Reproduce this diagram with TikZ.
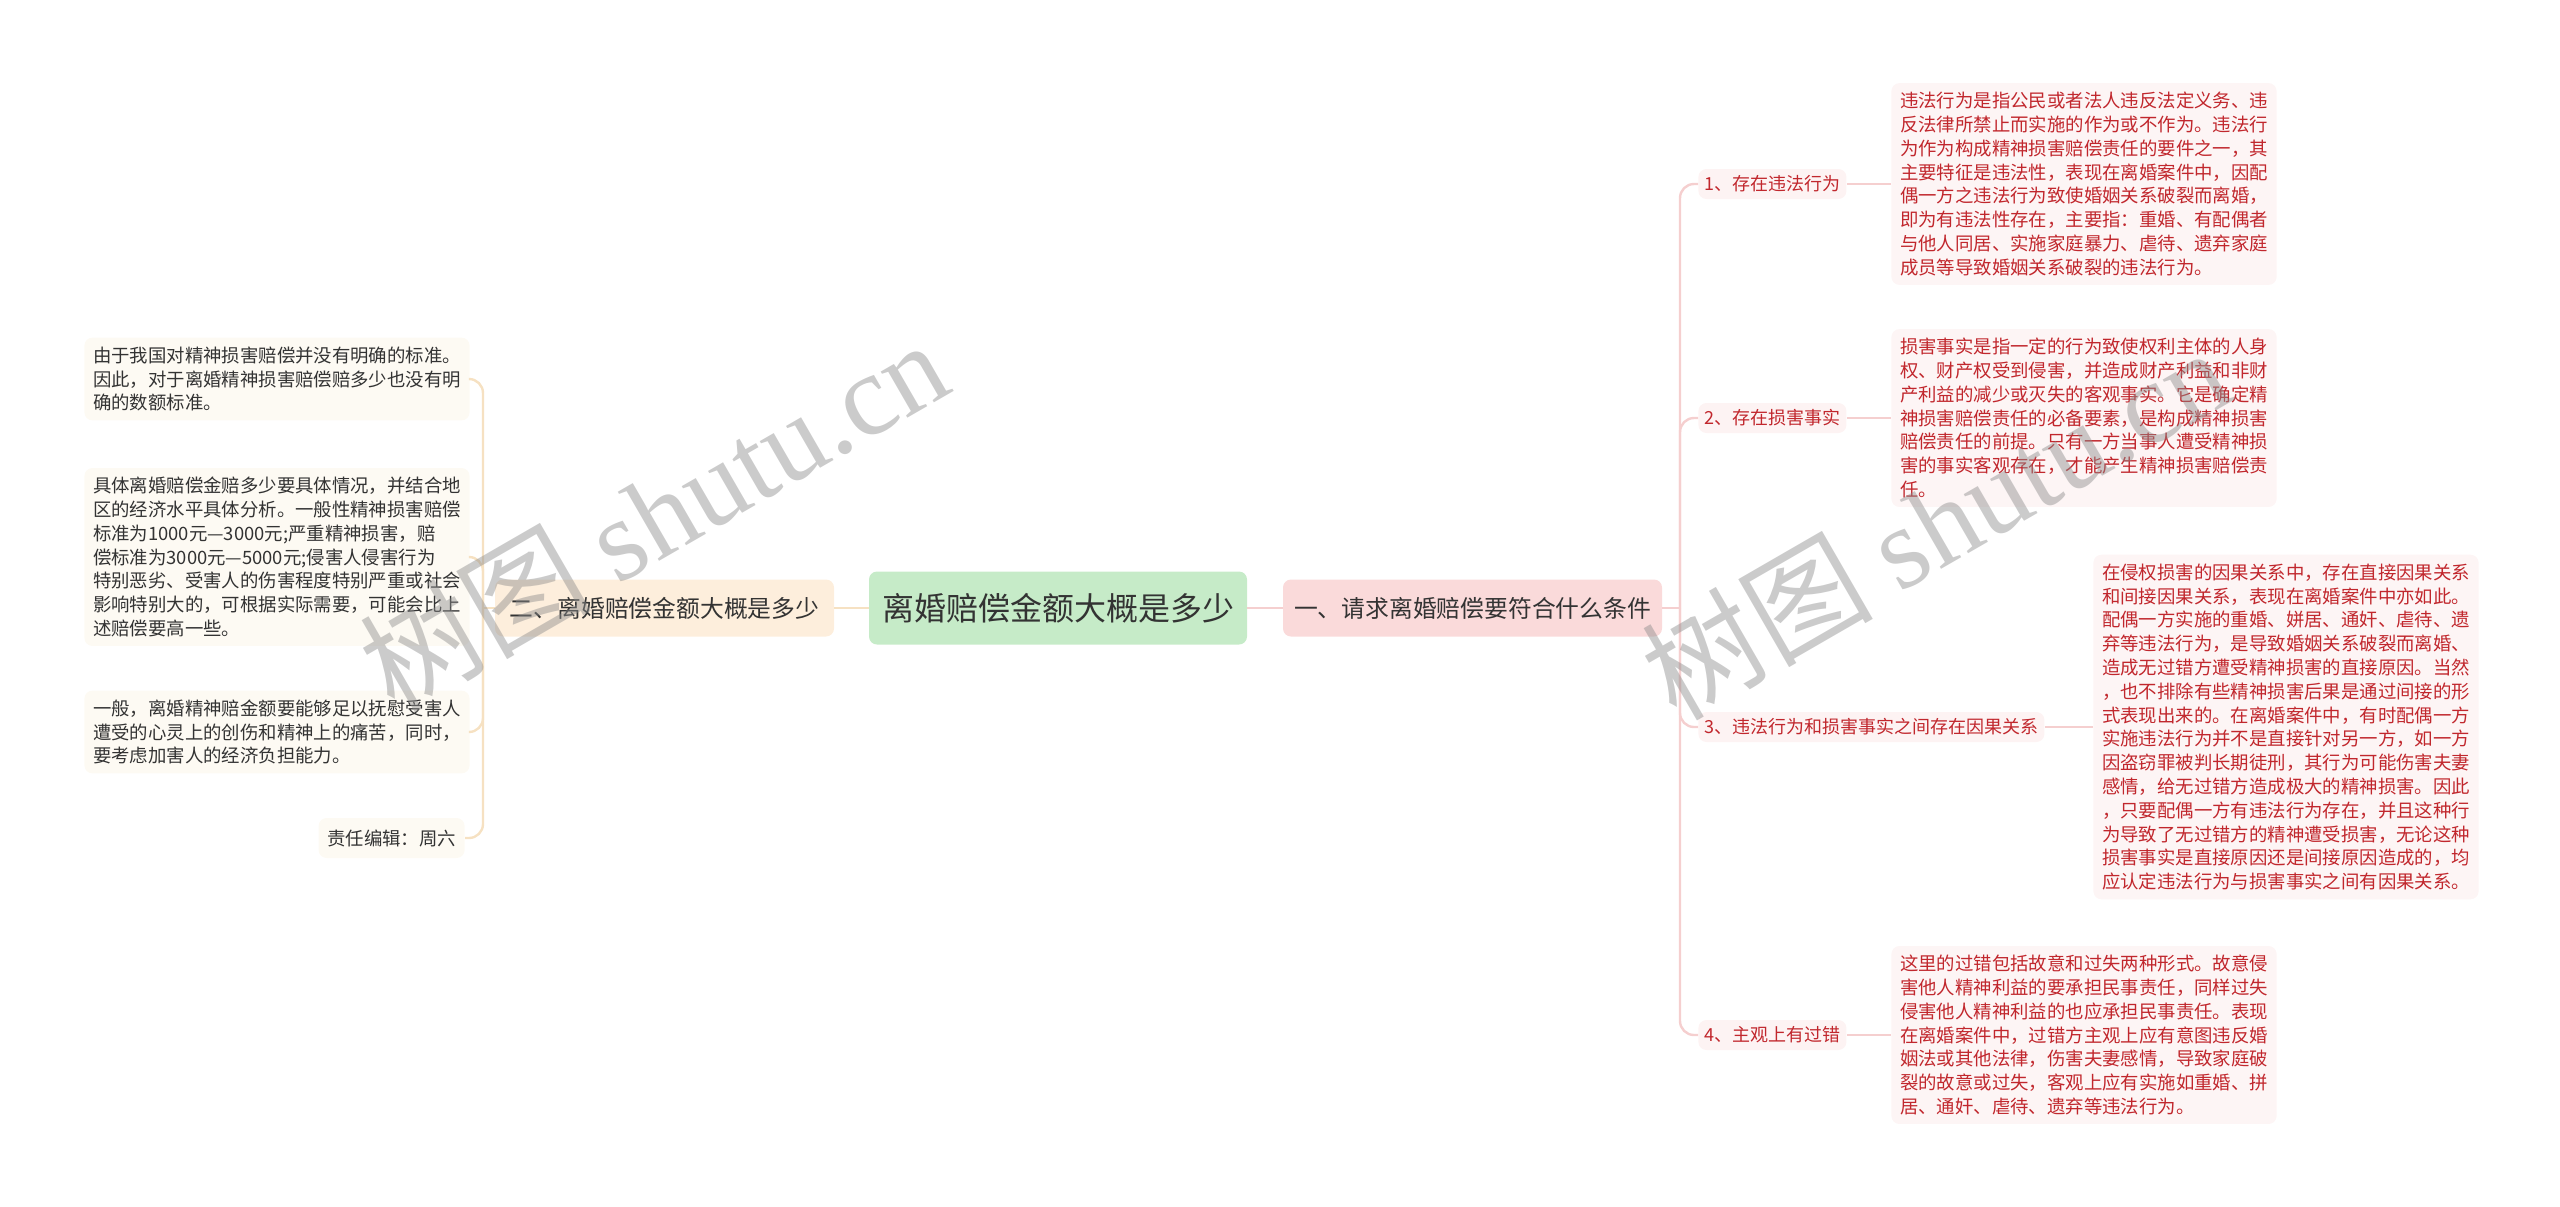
\documentclass[tikz,border=0pt]{standalone}
\usepackage{fontspec}
\setmainfont{Noto Sans CJK SC}
\newfontfamily\wmfont{Liberation Serif}
\usetikzlibrary{positioning}

\definecolor{rootbg}{HTML}{C6EBC8}
\definecolor{rmainbg}{HTML}{FADADA}
\definecolor{lmainbg}{HTML}{FDEEDC}
\definecolor{rlabbg}{HTML}{FDF3F3}
\definecolor{rboxbg}{HTML}{FDF5F5}
\definecolor{lboxbg}{HTML}{FDFAF3}
\definecolor{redtxt}{HTML}{C1272D}
\definecolor{darktxt}{HTML}{333333}
\definecolor{rlinec}{HTML}{F5CFCF}
\definecolor{llinec}{HTML}{F6E1C2}

\begin{document}
\begin{tikzpicture}[x=0.5pt, y=-0.5pt,
  box/.style={rounded corners=4pt, align=center, inner sep=3pt, text=darktxt},
  root/.style={box, fill=rootbg, minimum width=189pt, minimum height=36.5pt,
               font=\fontsize{16}{19}\selectfont},
  rmain/.style={box, fill=rmainbg, minimum width=189.5pt, minimum height=28.5pt,
                font=\fontsize{11.9}{14}\selectfont},
  lmain/.style={box, fill=lmainbg, minimum width=169.5pt, minimum height=28.5pt,
                font=\fontsize{11.9}{14}\selectfont},
  rlab/.style={box, fill=rlabbg, text=redtxt, anchor=west, minimum height=15pt,
               font=\fontsize{9}{11}\selectfont},
  para/.style={box, align=left, text width=184pt, inner xsep=4.3pt, inner ysep=4.5pt,
               font=\fontsize{9.2}{11.9}\selectfont},
  rpara/.style={para, fill=rboxbg, text=redtxt, anchor=west},
  lpara/.style={para, fill=lboxbg, anchor=east},
  rl/.style={draw=rlinec, line width=1.2pt, rounded corners=7pt},
  ll/.style={draw=llinec, line width=1.2pt, rounded corners=7pt},
  wmark/.style={rotate=30, text=black!45, opacity=0.45, font=\fontsize{58}{60}\selectfont}
]
\useasboundingbox (0,0) rectangle (2560,1206);

\node[root] (root) at (1058,608) {离婚赔偿金额大概是多少};
\node[rmain] (rmain) at (1472.5,608) {一、请求离婚赔偿要符合什么条件};
\node[lmain] (lmain) at (664.5,608) {二、离婚赔偿金额大概是多少};

\node[rlab] (lab1) at (1698,184) {1、存在违法行为};
\node[rlab] (lab2) at (1698,418) {2、存在损害事实};
\node[rlab] (lab3) at (1698,727) {3、违法行为和损害事实之间存在因果关系};
\node[rlab] (lab4) at (1698,1035) {4、主观上有过错};

\node[rpara] (txt1) at (1891,184) {违法行为是指公民或者法人违反法定义务、违\\
反法律所禁止而实施的作为或不作为。违法行\\
为作为构成精神损害赔偿责任的要件之一，其\\
主要特征是违法性，表现在离婚案件中，因配\\
偶一方之违法行为致使婚姻关系破裂而离婚，\\
即为有违法性存在，主要指：重婚、有配偶者\\
与他人同居、实施家庭暴力、虐待、遗弃家庭\\
成员等导致婚姻关系破裂的违法行为。};
\node[rpara] (txt2) at (1891,418) {损害事实是指一定的行为致使权利主体的人身\\
权、财产权受到侵害，并造成财产利益和非财\\
产利益的减少或灭失的客观事实。它是确定精\\
神损害赔偿责任的必备要素，是构成精神损害\\
赔偿责任的前提。只有一方当事人遭受精神损\\
害的事实客观存在，才能产生精神损害赔偿责\\
任。};
\node[rpara] (txt3) at (2093,727) {在侵权损害的因果关系中，存在直接因果关系\\
和间接因果关系，表现在离婚案件中亦如此。\\
配偶一方实施的重婚、姘居、通奸、虐待、遗\\
弃等违法行为，是导致婚姻关系破裂而离婚、\\
造成无过错方遭受精神损害的直接原因。当然\\
，也不排除有些精神损害后果是通过间接的形\\
式表现出来的。在离婚案件中，有时配偶一方\\
实施违法行为并不是直接针对另一方，如一方\\
因盗窃罪被判长期徒刑，其行为可能伤害夫妻\\
感情，给无过错方造成极大的精神损害。因此\\
，只要配偶一方有违法行为存在，并且这种行\\
为导致了无过错方的精神遭受损害，无论这种\\
损害事实是直接原因还是间接原因造成的，均\\
应认定违法行为与损害事实之间有因果关系。};
\node[rpara] (txt4) at (1891,1035) {这里的过错包括故意和过失两种形式。故意侵\\
害他人精神利益的要承担民事责任，同样过失\\
侵害他人精神利益的也应承担民事责任。表现\\
在离婚案件中，过错方主观上应有意图违反婚\\
姻法或其他法律，伤害夫妻感情，导致家庭破\\
裂的故意或过失，客观上应有实施如重婚、拼\\
居、通奸、虐待、遗弃等违法行为。};

\node[lpara] (ltx1) at (470,379) {由于我国对精神损害赔偿并没有明确的标准。\\
因此，对于离婚精神损害赔偿赔多少也没有明\\
确的数额标准。};
\node[lpara] (ltx2) at (470,557) {具体离婚赔偿金赔多少要具体情况，并结合地\\
区的经济水平具体分析。一般性精神损害赔偿\\
标准为1000元—3000元;严重精神损害，赔\\
偿标准为3000元—5000元;侵害人侵害行为\\
特别恶劣、受害人的伤害程度特别严重或社会\\
影响特别大的，可根据实际需要，可能会比上\\
述赔偿要高一些。};
\node[lpara] (ltx3) at (470,732) {一般，离婚精神赔金额要能够足以抚慰受害人\\
遭受的心灵上的创伤和精神上的痛苦，同时，\\
要考虑加害人的经济负担能力。};
\node[lpara, text width=, minimum height=20pt] (ltx4) at (465,838) {责任编辑：周六};

\coordinate (rfork) at (1680,608);
\coordinate (lfork) at (483,608);

\draw[rl] (root) -- (rmain);
\draw[ll] (root) -- (lmain);
\draw[rl] (rmain.east) -- (rfork);
\draw[ll] (lmain.west) -- (lfork);
\foreach \i in {1,...,4} {
  \draw[rl] (rfork) |- (lab\i.west);
  \draw[rl] (lab\i.east) -- (txt\i.west);
  \draw[ll] (lfork) |- (ltx\i.east);
}

\node[wmark] (wm1) at (653,514) {树图 {\wmfont shutu.cn}};
\node[wmark] (wm2) at (1935,522) {树图 {\wmfont shutu.cn}};
\end{tikzpicture}
\end{document}
